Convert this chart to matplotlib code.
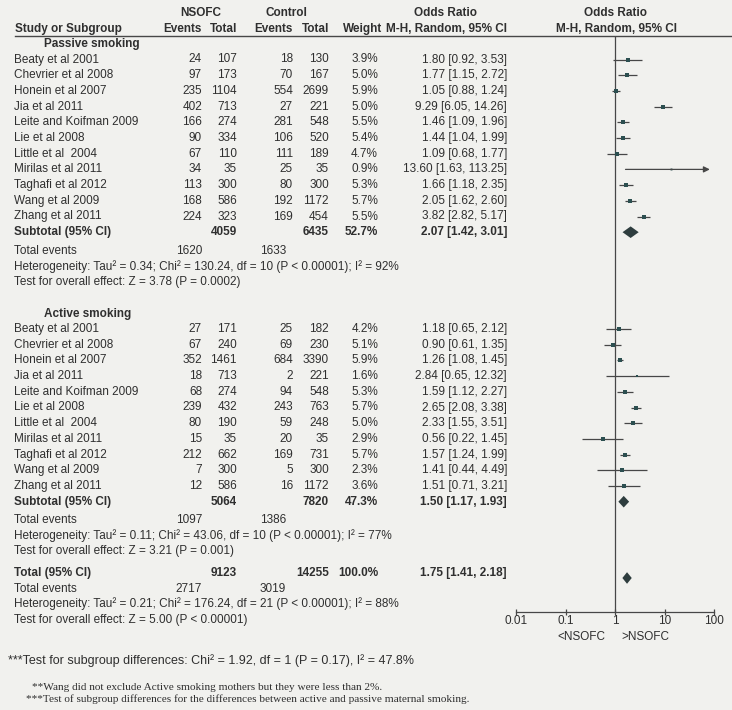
import matplotlib
matplotlib.use('Agg')
import matplotlib.pyplot as plt
import numpy as np

# Study rows (same study list in both subgroups)
studies = ['Beaty et al 2001', 'Chevrier et al 2008', 'Honein et al 2007', 'Jia et al 2011',
           'Leite and Koifman 2009', 'Lie et al 2008', 'Little et al  2004', 'Mirilas et al 2011',
           'Taghafi et al 2012', 'Wang et al 2009', 'Zhang et al 2011']

# Passive smoking
passive_ev_nsofc = [24, 97, 235, 402, 166, 90, 67, 34, 113, 168, 224]
passive_tot_nsofc = [107, 173, 1104, 713, 274, 334, 110, 35, 300, 586, 323]
passive_ev_ctrl = [18, 70, 554, 27, 281, 106, 111, 25, 80, 192, 169]
passive_tot_ctrl = [130, 167, 2699, 221, 548, 520, 189, 35, 300, 1172, 454]
passive_weight = [3.9, 5.0, 5.9, 5.0, 5.5, 5.4, 4.7, 0.9, 5.3, 5.7, 5.5]
passive_or = [1.80, 1.77, 1.05, 9.29, 1.46, 1.44, 1.09, 13.60, 1.66, 2.05, 3.82]
passive_lo = [0.92, 1.15, 0.88, 6.05, 1.09, 1.04, 0.68, 1.63, 1.18, 1.62, 2.82]
passive_hi = [3.53, 2.72, 1.24, 14.26, 1.96, 1.99, 1.77, 113.25, 2.35, 2.60, 5.17]

# Active smoking
active_ev_nsofc = [27, 67, 352, 18, 68, 239, 80, 15, 212, 7, 12]
active_tot_nsofc = [171, 240, 1461, 713, 274, 432, 190, 35, 662, 300, 586]
active_ev_ctrl = [25, 69, 684, 2, 94, 243, 59, 20, 169, 5, 16]
active_tot_ctrl = [182, 230, 3390, 221, 548, 763, 248, 35, 731, 300, 1172]
active_weight = [4.2, 5.1, 5.9, 1.6, 5.3, 5.7, 5.0, 2.9, 5.7, 2.3, 3.6]
active_or = [1.18, 0.90, 1.26, 2.84, 1.59, 2.65, 2.33, 0.56, 1.57, 1.41, 1.51]
active_lo = [0.65, 0.61, 1.08, 0.65, 1.12, 2.08, 1.55, 0.22, 1.24, 0.44, 0.71]
active_hi = [2.12, 1.35, 1.45, 12.32, 2.27, 3.38, 3.51, 1.45, 1.99, 4.49, 3.21]

# Subgroup summaries
sub_names = ['Passive smoking', 'Active smoking']
sub_tot_nsofc = [4059, 5064]
sub_tot_ctrl = [6435, 7820]
sub_weight = [52.7, 47.3]
sub_or = [2.07, 1.50]
sub_lo = [1.42, 1.17]
sub_hi = [3.01, 1.93]
sub_ev_nsofc = [1620, 1097]
sub_ev_ctrl = [1633, 1386]
sub_het = ['Heterogeneity: Tau\u00b2 = 0.34; Chi\u00b2 = 130.24, df = 10 (P < 0.00001); I\u00b2 = 92%',
           'Heterogeneity: Tau\u00b2 = 0.11; Chi\u00b2 = 43.06, df = 10 (P < 0.00001); I\u00b2 = 77%']
sub_test = ['Test for overall effect: Z = 3.78 (P = 0.0002)',
            'Test for overall effect: Z = 3.21 (P = 0.001)']

# Overall
total_tot_nsofc = 9123
total_tot_ctrl = 14255
total_weight = 100.0
total_or, total_lo, total_hi = 1.75, 1.41, 2.18
total_ev_nsofc = 2717
total_ev_ctrl = 3019
total_het = 'Heterogeneity: Tau\u00b2 = 0.21; Chi\u00b2 = 176.24, df = 21 (P < 0.00001); I\u00b2 = 88%'
total_test = 'Test for overall effect: Z = 5.00 (P < 0.00001)'

xticks = [0.01, 0.1, 1, 10, 100]
xtick_labels = ['0.01', '0.1', '1', '10', '100']

subgroups = [
    (passive_ev_nsofc, passive_tot_nsofc, passive_ev_ctrl, passive_tot_ctrl,
     passive_weight, passive_or, passive_lo, passive_hi),
    (active_ev_nsofc, active_tot_nsofc, active_ev_ctrl, active_tot_ctrl,
     active_weight, active_or, active_lo, active_hi),
]

# Styles
W, H = 732, 710
bg = '#f1f1ee'
txt_c = '#2f2f2f'
line_c = '#474747'
mark_c = '#2c4f50'
diam_c = '#2e3d3e'
fs = 8.45
sans = 'Liberation Sans'

# column right edges (pixels)
col_ev1, col_tot1, col_ev2, col_tot2, col_w, col_or = 202, 237, 293, 329, 378, 507
name_x = 14
step = 15.7

fig = plt.figure(figsize=(W / 100, H / 100), dpi=100, facecolor=bg)
ax = fig.add_axes([0, 0, 1, 1])
ax.set_xlim(0, W)
ax.set_ylim(H, 0)
ax.axis('off')
ax.set_facecolor(bg)

# forest axes: x log scale, y in page pixels
fx0, fx1, fy0, fy1 = 516, 714, 36, 612
axf = fig.add_axes([fx0 / W, 1 - fy1 / H, (fx1 - fx0) / W, (fy1 - fy0) / H])
axf.set_facecolor('none')
axf.set_xscale('log')
axf.set_xlim(0.01, 100)
axf.set_ylim(fy1, fy0)
for s in ['top', 'left', 'right']:
    axf.spines[s].set_visible(False)
axf.spines['bottom'].set_color(line_c)
axf.spines['bottom'].set_linewidth(0.9)
axf.set_yticks([])
axf.set_xticks(xticks)
axf.set_xticklabels(xtick_labels)
axf.minorticks_off()
axf.tick_params(axis='x', direction='inout', length=5, width=0.9, color=line_c,
                labelsize=fs, labelcolor=txt_c, pad=0)
for lb in axf.get_xticklabels():
    lb.set_fontfamily(sans)
axf.axvline(1, color=line_c, lw=0.9)


def t(x, y, s, ha='left', bold=False, size=fs, family=sans, color=txt_c):
    ax.text(x, y, s, ha=ha, va='center', fontsize=size, family=family,
            fontweight='bold' if bold else 'normal', color=color)


def fmt_ci(o, lo, hi):
    return f'{o:.2f} [{lo:.2f}, {hi:.2f}]'


def diamond(y, o, lo, hi, h=5.8):
    axf.fill([lo, o, hi, o], [y, y - h, y, y + h], color=diam_c, lw=0)


# header
hdr1, hdr2 = 13, 29
t(201, hdr1, 'NSOFC', ha='center', bold=True)
t(286, hdr1, 'Control', ha='center', bold=True)
t(445, hdr1, 'Odds Ratio', ha='center', bold=True)
t(616, hdr1, 'Odds Ratio', ha='center', bold=True)
t(name_x + 1, hdr2, 'Study or Subgroup', bold=True)
t(col_ev1, hdr2, 'Events', ha='right', bold=True)
t(col_tot1, hdr2, 'Total', ha='right', bold=True)
t(col_ev2, hdr2, 'Events', ha='right', bold=True)
t(col_tot2, hdr2, 'Total', ha='right', bold=True)
t(col_w + 4, hdr2, 'Weight', ha='right', bold=True)
t(col_or, hdr2, 'M-H, Random, 95% CI', ha='right', bold=True)
t(616, hdr2, 'M-H, Random, 95% CI', ha='center', bold=True)
ax.plot([15, W], [35.5, 35.5], color=line_c, lw=1.0)

block_tops = [44, 313.5]
for g, (ev1, tot1, ev2, tot2, wt, orr, lo, hi) in enumerate(subgroups):
    y0 = block_tops[g]
    t(44, y0, sub_names[g], bold=True)
    ys = y0 + 15.5 + step * np.arange(len(studies))
    for i, y in enumerate(ys):
        t(name_x, y, studies[i])
        t(col_ev1, y, str(ev1[i]), ha='right')
        t(col_tot1, y, str(tot1[i]), ha='right')
        t(col_ev2, y, str(ev2[i]), ha='right')
        t(col_tot2, y, str(tot2[i]), ha='right')
        t(col_w, y, f'{wt[i]:.1f}%', ha='right')
        t(col_or, y, fmt_ci(orr[i], lo[i], hi[i]), ha='right')
        if hi[i] > 100:
            axf.annotate('', xy=(100, y), xytext=(lo[i], y), annotation_clip=False,
                         arrowprops=dict(arrowstyle='-|>', color=line_c, lw=0.9,
                                         mutation_scale=9, shrinkA=0, shrinkB=-3))
        else:
            axf.plot([lo[i], hi[i]], [y, y], color=line_c, lw=0.9, solid_capstyle='butt')
        axf.plot(orr[i], y, 's', ms=1.45 * np.sqrt(wt[i]), color=mark_c, mew=0)
    ysub = ys[-1] + step
    t(name_x, ysub, 'Subtotal (95% CI)', bold=True)
    t(col_tot1, ysub, str(sub_tot_nsofc[g]), ha='right', bold=True)
    t(col_tot2, ysub, str(sub_tot_ctrl[g]), ha='right', bold=True)
    t(col_w, ysub, f'{sub_weight[g]:.1f}%', ha='right', bold=True)
    t(col_or, ysub, fmt_ci(sub_or[g], sub_lo[g], sub_hi[g]), ha='right', bold=True)
    diamond(ysub, sub_or[g], sub_lo[g], sub_hi[g])
    yev = ysub + 18.5
    t(name_x, yev, 'Total events')
    t(col_ev1, yev, str(sub_ev_nsofc[g]), ha='right')
    t(col_ev2 - 7, yev, str(sub_ev_ctrl[g]), ha='right')
    t(name_x, yev + 15.5, sub_het[g])
    t(name_x, yev + 31, sub_test[g])

# overall
ytot = 573
t(name_x, ytot, 'Total (95% CI)', bold=True)
t(col_tot1, ytot, str(total_tot_nsofc), ha='right', bold=True)
t(col_tot2, ytot, str(total_tot_ctrl), ha='right', bold=True)
t(col_w, ytot, f'{total_weight:.1f}%', ha='right', bold=True)
t(col_or, ytot, fmt_ci(total_or, total_lo, total_hi), ha='right', bold=True)
diamond(ytot + 5, total_or, total_lo, total_hi)
t(name_x, ytot + 15.5, 'Total events')
t(col_ev1, ytot + 15.5, str(total_ev_nsofc), ha='right')
t(col_ev2 - 7, ytot + 15.5, str(total_ev_ctrl), ha='right')
t(name_x, ytot + 31, total_het)
t(name_x, ytot + 47, total_test)

# favours labels under the axis
t(605, 637, '<NSOFC', ha='right')
t(621, 637, '>NSOFC', ha='left')

# footnotes
t(8, 661, '***Test for subgroup differences: Chi\u00b2 = 1.92, df = 1 (P = 0.17), I\u00b2 = 47.8%', size=9.0)
t(32, 687, '**Wang did not exclude Active smoking mothers but they were less than 2%.',
  size=8.1, family='Liberation Serif')
t(26, 699, '***Test of subgroup differences for the differences between active and passive maternal smoking.',
  size=8.1, family='Liberation Serif')

fig.savefig('out.png', dpi=100, facecolor=bg)
